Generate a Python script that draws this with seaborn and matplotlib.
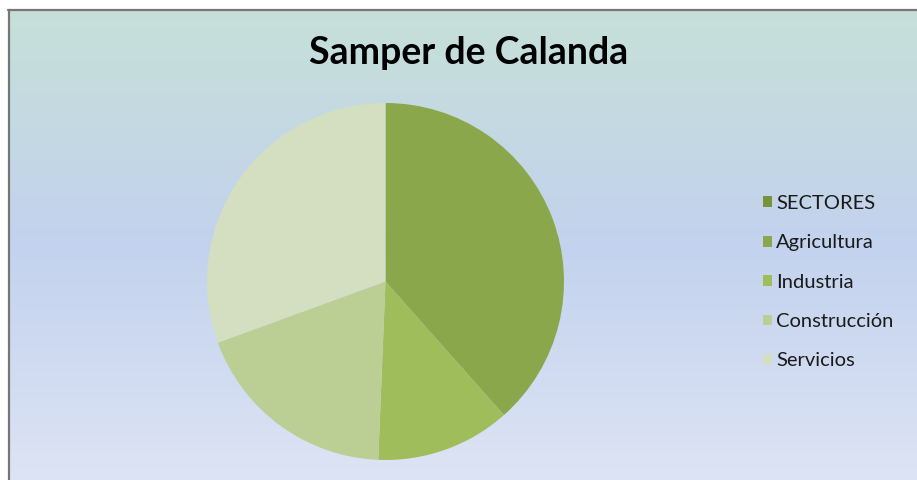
import numpy as np
import matplotlib
matplotlib.use("Agg")
import matplotlib.pyplot as plt
from matplotlib.colors import LinearSegmentedColormap
from matplotlib.patches import Patch
from matplotlib.lines import Line2D
import seaborn as sns

# Sector shares (%) for Samper de Calanda
sectors = ["SECTORES", "Agricultura", "Industria", "Construcción", "Servicios"]
shares = [0.0, 38.5, 12.2, 18.8, 30.6]
colors = ["#77933c", "#8aa84b", "#9fbd5a", "#bbcf95", "#d3dfc0"]
title = "Samper de Calanda"

sns.set_style("white")
plt.rcParams["font.family"] = ["Lato", "DejaVu Sans"]

W, H = 917, 480
fig = plt.figure(figsize=(W / 100, H / 100), dpi=100, facecolor="white")

# chart area background: vertical gradient
bg = fig.add_axes([8 / W, 0, 1 - 8 / W, (H - 10) / H])
bg.set_axis_off()
grad = LinearSegmentedColormap.from_list(
    "bg", [(0.0, "#c6e0d8"), (0.5, "#c3d2ee"), (1.0, "#dde4f4")]
)
bg.imshow(np.linspace(0, 1, 256)[:, None], aspect="auto", cmap=grad,
          extent=[0, 1, 0, 1], origin="upper")
bg.set_xlim(0, 1)
bg.set_ylim(0, 1)

# chart frame (top and left edges)
fig.add_artist(Line2D([8 / W, 1], [(H - 9.5) / H] * 2, color="#767676", lw=1.6,
                      transform=fig.transFigure))
fig.add_artist(Line2D([8.5 / W] * 2, [0, (H - 9.5) / H], color="#767676", lw=1.6,
                      transform=fig.transFigure))

# pie
cx, cy, r = 385.5, 281.5, 178.5
ax = fig.add_axes([(cx - r) / W, (H - cy - r) / H, 2 * r / W, 2 * r / H])
ax.set_axis_off()
ax.pie(shares, colors=colors, startangle=90, counterclock=False, radius=1,
       wedgeprops=dict(linewidth=0))
ax.set_xlim(-1, 1)
ax.set_ylim(-1, 1)
ax.set_aspect("equal")

fig.text(468.5 / W, 1 - 64 / H, title, ha="center", va="baseline",
         fontsize=27, fontweight="bold", color="black")

handles = [Patch(facecolor=c, edgecolor="none") for c in colors]
fig.legend(handles, sectors, loc="upper left",
           bbox_to_anchor=(755 / W, 1 - 187 / H), frameon=False,
           fontsize=14.5, handlelength=0.45, handleheight=0.45,
           handletextpad=0.2, labelspacing=1.11, borderaxespad=0,
           labelcolor="#1a1a1a")

fig.savefig("out.png", dpi=100, facecolor="white")
